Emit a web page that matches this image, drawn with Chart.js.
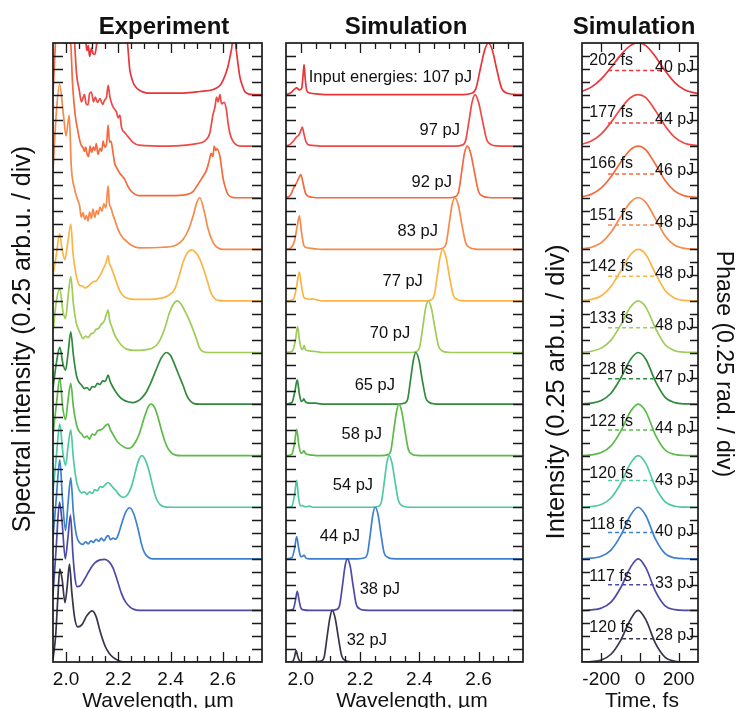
<!DOCTYPE html>
<html>
<head>
<meta charset="utf-8">
<script src="https://cdn.jsdelivr.net/npm/chart.js@4.4.1/dist/chart.umd.min.js"></script>
<style>
  html, body { margin: 0; padding: 0; background: #fff; }
  #wrap { position: relative; width: 740px; height: 708px; overflow: hidden; background: #fff; }
  #wrap canvas { position: absolute; left: 0; top: 0; }
</style>
</head>
<body>
<div id="wrap">
  <canvas id="expChart" width="740" height="708"></canvas>
  <canvas id="simChart" width="740" height="708"></canvas>
  <canvas id="timeChart" width="740" height="708"></canvas>
</div>
<script>
const FONT = '"Liberation Sans", Arial, Helvetica, sans-serif';

// colours, bottom (lowest energy) to top
const colors = ['#36354b', '#4b4aa8', '#3d80d0', '#4fc9a3', '#5cba49', '#2f8a3d',
                '#9ecc56', '#fbb446', '#f7894b', '#f36a3c', '#ee4a45', '#e8343a'];
const levels = [0, 1, 2, 3, 4, 5, 6, 7, 8, 9, 10, 11];

// ---- Experiment spectra [wavelength um, relative intensity] ----
const exp32 = [[1.95,0.05],[1.96,0.5],[1.968,1.2],[1.976,1.8],[1.985,1.6],[1.996,1.15],[2.005,1.5],[2.013,1.9],[2.022,1.35],[2.033,0.85],[2.045,0.68],[2.06,0.72],[2.08,0.9],[2.1,0.99],[2.115,0.88],[2.13,0.6],[2.15,0.3],[2.165,0.17],[2.18,0.09],[2.2,0.03],[2.22,0.005],[2.3,0],[2.75,0]];
const exp38 = [[1.95,0.3],[1.962,1.2],[1.975,2.1],[1.985,1.7],[1.997,1.0],[2.007,1.4],[2.017,1.85],[2.026,1.1],[2.035,0.6],[2.042,0.46],[2.055,0.48],[2.07,0.6],[2.09,0.78],[2.11,0.92],[2.13,0.98],[2.148,0.99],[2.165,0.94],[2.18,0.82],[2.195,0.6],[2.212,0.33],[2.228,0.16],[2.244,0.07],[2.26,0.02],[2.28,0],[2.75,0]];
const exp44 = [[1.95,0.4],[1.963,1.2],[1.976,1.92],[1.987,1.1],[1.998,0.55],[2.008,1.1],[2.018,1.57],[2.028,0.9],[2.04,0.45],[2.052,0.31],[2.065,0.28],[2.075,0.33],[2.085,0.29],[2.095,0.35],[2.105,0.32],[2.115,0.38],[2.125,0.34],[2.135,0.4],[2.145,0.35],[2.155,0.43],[2.162,0.45],[2.17,0.37],[2.18,0.4],[2.19,0.38],[2.2,0.47],[2.212,0.67],[2.228,0.9],[2.244,0.99],[2.26,0.86],[2.276,0.57],[2.288,0.3],[2.3,0.12],[2.315,0.03],[2.33,0],[2.75,0]];
const exp54 = [[1.95,0.3],[1.963,1.0],[1.976,1.61],[1.988,1.05],[1.998,0.81],[2.008,1.2],[2.018,1.5],[2.028,0.95],[2.04,0.5],[2.05,0.33],[2.06,0.28],[2.07,0.3],[2.08,0.25],[2.09,0.3],[2.1,0.27],[2.11,0.34],[2.12,0.32],[2.13,0.4],[2.14,0.39],[2.15,0.44],[2.16,0.48],[2.17,0.44],[2.18,0.38],[2.19,0.33],[2.2,0.26],[2.21,0.21],[2.22,0.19],[2.235,0.24],[2.25,0.4],[2.262,0.62],[2.275,0.87],[2.29,1.0],[2.305,0.9],[2.32,0.66],[2.333,0.38],[2.346,0.16],[2.36,0.05],[2.375,0.01],[2.4,0],[2.75,0]];
const exp58 = [[1.95,0.4],[1.963,1.0],[1.976,1.5],[1.988,0.9],[1.998,0.7],[2.008,1.1],[2.018,1.4],[2.028,0.95],[2.04,0.6],[2.05,0.47],[2.06,0.42],[2.07,0.35],[2.08,0.38],[2.09,0.32],[2.1,0.42],[2.11,0.4],[2.12,0.48],[2.13,0.5],[2.14,0.52],[2.15,0.58],[2.161,0.61],[2.17,0.5],[2.18,0.41],[2.19,0.32],[2.2,0.25],[2.218,0.18],[2.235,0.14],[2.25,0.16],[2.265,0.26],[2.28,0.42],[2.3,0.75],[2.315,0.95],[2.326,1.0],[2.34,0.92],[2.352,0.74],[2.365,0.5],[2.378,0.28],[2.39,0.14],[2.404,0.05],[2.42,0.01],[2.44,0],[2.75,0]];
const exp65 = [[1.95,0.3],[1.963,0.8],[1.976,1.1],[1.988,0.78],[1.998,0.66],[2.008,1.0],[2.018,1.4],[2.028,0.95],[2.04,0.55],[2.05,0.42],[2.059,0.37],[2.07,0.3],[2.08,0.32],[2.09,0.27],[2.1,0.34],[2.11,0.33],[2.12,0.4],[2.13,0.38],[2.14,0.45],[2.15,0.44],[2.161,0.56],[2.168,0.45],[2.175,0.37],[2.19,0.24],[2.205,0.14],[2.22,0.08],[2.24,0.04],[2.257,0.03],[2.275,0.06],[2.29,0.12],[2.308,0.24],[2.325,0.42],[2.346,0.68],[2.365,0.9],[2.384,1.0],[2.4,0.94],[2.416,0.76],[2.432,0.56],[2.448,0.36],[2.462,0.17],[2.474,0.07],[2.49,0.01],[2.51,0],[2.75,0]];
const exp70 = [[1.95,0.4],[1.963,1.0],[1.976,1.24],[1.988,0.8],[1.998,0.66],[2.008,1.1],[2.018,1.47],[2.028,0.95],[2.038,0.6],[2.046,0.47],[2.056,0.35],[2.065,0.27],[2.075,0.32],[2.085,0.29],[2.095,0.36],[2.105,0.38],[2.115,0.45],[2.125,0.47],[2.135,0.55],[2.145,0.6],[2.152,0.7],[2.161,0.82],[2.167,0.62],[2.175,0.5],[2.186,0.34],[2.2,0.22],[2.212,0.14],[2.23,0.07],[2.26,0.04],[2.3,0.05],[2.333,0.09],[2.355,0.2],[2.378,0.47],[2.395,0.76],[2.41,0.93],[2.425,1.0],[2.44,0.94],[2.455,0.8],[2.474,0.6],[2.488,0.42],[2.5,0.25],[2.51,0.1],[2.52,0.03],[2.54,0],[2.75,0]];
const exp77 = [[1.95,0.5],[1.963,0.9],[1.975,1.3],[1.985,1.0],[1.995,0.8],[2.007,1.15],[2.018,1.49],[2.027,0.9],[2.038,0.52],[2.052,0.3],[2.062,0.29],[2.072,0.25],[2.084,0.28],[2.094,0.33],[2.104,0.37],[2.116,0.39],[2.126,0.46],[2.135,0.54],[2.142,0.62],[2.15,0.7],[2.155,0.78],[2.161,0.88],[2.166,0.72],[2.172,0.66],[2.18,0.55],[2.193,0.36],[2.205,0.2],[2.215,0.12],[2.23,0.06],[2.26,0.03],[2.32,0.03],[2.36,0.05],[2.39,0.1],[2.416,0.23],[2.432,0.47],[2.448,0.75],[2.464,0.93],[2.48,0.99],[2.496,0.94],[2.512,0.81],[2.526,0.62],[2.538,0.43],[2.548,0.26],[2.557,0.13],[2.57,0.04],[2.585,0.01],[2.6,0],[2.75,0]];
const exp83 = [[1.95,1.5],[1.962,2.6],[1.975,3.2],[1.99,2.6],[2.0,2.2],[2.012,2.6],[2.02,1.6],[2.033,1.16],[2.043,0.98],[2.052,0.84],[2.058,0.62],[2.065,0.71],[2.072,0.58],[2.078,0.66],[2.084,0.55],[2.09,0.72],[2.097,0.6],[2.103,0.78],[2.11,0.62],[2.117,0.75],[2.123,0.68],[2.13,0.82],[2.137,0.74],[2.145,0.88],[2.152,0.8],[2.161,1.23],[2.166,0.88],[2.172,0.8],[2.18,0.66],[2.186,0.58],[2.195,0.44],[2.205,0.32],[2.218,0.22],[2.231,0.16],[2.25,0.08],[2.28,0.03],[2.37,0.04],[2.42,0.08],[2.448,0.19],[2.47,0.4],[2.486,0.64],[2.5,0.9],[2.512,1.0],[2.528,0.75],[2.544,0.39],[2.563,0.13],[2.578,0.04],[2.6,0],[2.75,0]];
const exp92 = [[1.95,2.0],[1.965,3.5],[1.975,3.8],[1.99,3.0],[2.005,3.0],[2.015,3.2],[2.025,2.2],[2.035,1.6],[2.045,1.3],[2.052,1.12],[2.058,1.02],[2.065,0.97],[2.07,0.9],[2.075,0.98],[2.08,0.86],[2.086,0.8],[2.092,1.0],[2.098,0.88],[2.104,0.98],[2.11,0.92],[2.116,1.05],[2.122,0.84],[2.13,0.96],[2.136,0.9],[2.142,1.1],[2.148,0.98],[2.155,1.05],[2.161,1.41],[2.166,1.08],[2.172,1.1],[2.18,0.86],[2.186,0.67],[2.196,0.56],[2.205,0.48],[2.215,0.42],[2.225,0.35],[2.235,0.24],[2.244,0.16],[2.26,0.08],[2.28,0.04],[2.4,0.04],[2.46,0.06],[2.486,0.12],[2.5,0.22],[2.52,0.38],[2.538,0.54],[2.548,0.72],[2.555,0.86],[2.562,0.8],[2.567,1.0],[2.573,0.92],[2.578,0.95],[2.589,0.8],[2.596,0.55],[2.602,0.35],[2.612,0.16],[2.62,0.06],[2.635,0.01],[2.65,0],[2.75,0]];
const exp97 = [[1.95,2.5],[1.975,4],[2.0,3.5],[2.02,3.5],[2.033,2.0],[2.04,1.41],[2.05,1.1],[2.059,0.86],[2.065,0.94],[2.07,1.0],[2.077,0.82],[2.084,0.8],[2.09,1.02],[2.097,1.05],[2.105,0.86],[2.112,0.95],[2.12,0.85],[2.13,0.92],[2.14,0.81],[2.148,0.9],[2.155,0.95],[2.161,1.18],[2.168,0.95],[2.175,0.82],[2.18,0.76],[2.193,0.66],[2.2,0.55],[2.206,0.6],[2.212,0.37],[2.225,0.26],[2.238,0.18],[2.255,0.08],[2.28,0.02],[2.39,0],[2.46,0.02],[2.5,0.05],[2.53,0.1],[2.55,0.25],[2.562,0.6],[2.57,0.76],[2.576,0.95],[2.582,0.86],[2.589,1.0],[2.595,0.82],[2.605,0.85],[2.614,0.7],[2.62,0.45],[2.627,0.25],[2.636,0.12],[2.646,0.05],[2.665,0],[2.75,0]];
const exp107 = [[1.95,2],[1.975,3.5],[2.0,3],[2.02,3],[2.05,1.4],[2.065,1.2],[2.075,1.05],[2.08,0.85],[2.085,0.95],[2.09,0.74],[2.097,0.9],[2.103,0.8],[2.11,0.78],[2.118,1.0],[2.13,1.3],[2.16,1.5],[2.2,1.4],[2.22,1.2],[2.231,1.07],[2.236,0.95],[2.24,0.7],[2.244,0.48],[2.25,0.34],[2.257,0.23],[2.266,0.15],[2.276,0.1],[2.29,0.06],[2.31,0.03],[2.45,0.03],[2.512,0.06],[2.564,0.1],[2.59,0.18],[2.602,0.29],[2.612,0.42],[2.62,0.55],[2.627,0.72],[2.633,0.87],[2.64,1.1],[2.647,1.05],[2.652,0.85],[2.658,0.6],[2.665,0.35],[2.675,0.17],[2.684,0.06],[2.7,0.01],[2.72,0],[2.75,0]];
const expSpectra = [exp32, exp38, exp44, exp54, exp58, exp65, exp70, exp77, exp83, exp92, exp97, exp107];

// ---- Simulated spectra ----
const sim32 = [[1.95,0],[1.972,0.01],[1.978,0.08],[1.984,0.22],[1.99,0.1],[1.996,0.02],[2.01,0],[2.04,0.01],[2.055,0.01],[2.069,0.02],[2.079,0.1],[2.089,0.5],[2.098,0.85],[2.106,1],[2.116,0.85],[2.126,0.5],[2.138,0.12],[2.15,0.03],[2.166,0.005],[2.2,0],[2.75,0]];
const sim38 = [[1.95,0],[1.974,0.02],[1.982,0.2],[1.988,0.37],[1.994,0.2],[2.0,0.05],[2.01,0.01],[2.03,0],[2.1,0],[2.122,0.02],[2.131,0.1],[2.141,0.5],[2.149,0.85],[2.157,1],[2.167,0.85],[2.176,0.5],[2.187,0.12],[2.199,0.03],[2.214,0.005],[2.25,0],[2.75,0]];
const sim44 = [[1.95,0],[1.97,0.02],[1.979,0.2],[1.986,0.43],[1.993,0.2],[2.0,0.04],[2.006,0.05],[2.011,0.07],[2.017,0.02],[2.03,0],[2.19,0],[2.216,0.02],[2.225,0.1],[2.235,0.5],[2.243,0.85],[2.251,1],[2.261,0.85],[2.27,0.5],[2.281,0.12],[2.293,0.03],[2.308,0.005],[2.34,0],[2.75,0]];
const sim54 = [[1.95,0],[1.97,0.02],[1.979,0.25],[1.986,0.52],[1.992,0.2],[1.998,0.03],[2.005,0.03],[2.015,0.01],[2.03,0.02],[2.04,0],[2.24,0],[2.263,0.02],[2.272,0.1],[2.282,0.5],[2.29,0.85],[2.298,1],[2.308,0.85],[2.318,0.5],[2.33,0.12],[2.342,0.03],[2.358,0.005],[2.39,0],[2.75,0]];
const sim58 = [[1.95,0],[1.97,0.03],[1.979,0.25],[1.986,0.51],[1.993,0.22],[2.0,0.05],[2.006,0.06],[2.01,0.1],[2.015,0.05],[2.025,0.02],[2.04,0.01],[2.06,0],[2.27,0],[2.294,0.02],[2.304,0.1],[2.314,0.5],[2.323,0.85],[2.331,1],[2.341,0.85],[2.351,0.5],[2.363,0.12],[2.375,0.03],[2.391,0.005],[2.42,0],[2.75,0]];
const sim65 = [[1.95,0],[1.97,0.03],[1.98,0.25],[1.988,0.47],[1.995,0.2],[2.002,0.05],[2.007,0.07],[2.01,0.1],[2.016,0.04],[2.03,0.02],[2.05,0.02],[2.06,0.01],[2.08,0],[2.33,0],[2.351,0.02],[2.361,0.1],[2.371,0.5],[2.38,0.85],[2.388,1],[2.399,0.85],[2.409,0.5],[2.422,0.12],[2.434,0.03],[2.451,0.005],[2.48,0],[2.75,0]];
const sim70 = [[1.95,0],[1.972,0.03],[1.982,0.25],[1.989,0.5],[1.996,0.22],[2.003,0.06],[2.008,0.08],[2.011,0.14],[2.016,0.05],[2.03,0.03],[2.05,0.02],[2.07,0],[2.37,0],[2.39,0.02],[2.401,0.1],[2.412,0.5],[2.421,0.85],[2.43,1],[2.441,0.85],[2.452,0.5],[2.465,0.12],[2.478,0.03],[2.496,0.005],[2.52,0],[2.75,0]];
const sim77 = [[1.95,0],[1.975,0.03],[1.985,0.25],[1.995,0.56],[2.002,0.3],[2.01,0.07],[2.02,0.04],[2.03,0.03],[2.04,0.04],[2.055,0.02],[2.07,0],[2.42,0],[2.439,0.02],[2.45,0.1],[2.461,0.5],[2.47,0.85],[2.479,1],[2.49,0.85],[2.501,0.5],[2.514,0.12],[2.527,0.03],[2.545,0.005],[2.57,0],[2.75,0]];
const sim83 = [[1.95,0],[1.965,0.02],[1.978,0.15],[1.988,0.45],[1.995,0.65],[2.002,0.35],[2.01,0.08],[2.02,0.03],[2.035,0.02],[2.05,0.01],[2.07,0],[2.46,0],[2.478,0.02],[2.49,0.1],[2.501,0.5],[2.51,0.85],[2.52,1],[2.532,0.85],[2.543,0.5],[2.557,0.12],[2.571,0.03],[2.589,0.005],[2.61,0],[2.75,0]];
const sim92 = [[1.95,0],[1.965,0.05],[1.975,0.18],[1.985,0.28],[1.993,0.38],[2.0,0.45],[2.007,0.3],[2.015,0.1],[2.025,0.03],[2.04,0.01],[2.06,0],[2.5,0],[2.52,0.02],[2.532,0.1],[2.543,0.5],[2.552,0.85],[2.562,1],[2.574,0.85],[2.586,0.5],[2.6,0.12],[2.615,0.03],[2.634,0.005],[2.66,0],[2.75,0]];
const sim97 = [[1.95,0],[1.965,0.04],[1.978,0.12],[1.986,0.18],[1.994,0.22],[2.0,0.3],[2.005,0.37],[2.01,0.25],[2.018,0.08],[2.03,0.02],[2.05,0.01],[2.07,0],[2.52,0],[2.544,0.02],[2.556,0.1],[2.568,0.5],[2.578,0.85],[2.588,1],[2.6,0.85],[2.613,0.5],[2.628,0.12],[2.643,0.03],[2.663,0.005],[2.69,0],[2.75,0]];
const sim107 = [[1.95,0],[1.965,0.03],[1.978,0.1],[1.986,0.13],[1.995,0.09],[2.003,0.12],[2.008,0.4],[2.011,0.58],[2.015,0.3],[2.02,0.08],[2.03,0.03],[2.06,0.01],[2.1,0],[2.55,0],[2.573,0.02],[2.59,0.1],[2.606,0.5],[2.62,0.85],[2.633,1],[2.647,0.85],[2.661,0.5],[2.678,0.12],[2.695,0.03],[2.72,0.005],[2.75,0]];
const simSpectra = [sim32, sim38, sim44, sim54, sim58, sim65, sim70, sim77, sim83, sim92, sim97, sim107];
const simEnergies = [32, 38, 44, 54, 58, 65, 70, 77, 83, 92, 97, 107];
// right end of each energy label, [wavelength, level]
const simLabelAt = [[2.291,0.41],[2.335,1.41],[2.2,2.43],[2.244,3.43],[2.274,4.41],[2.318,5.37],
                    [2.369,6.37],[2.412,7.37],[2.463,8.35],[2.51,9.29],[2.537,10.31],[2.578,11.33]];

// ---- Simulated pulses in time ----
const pulseTimes = [-300, -250, -200, -150, -100, -50, -10, 30, 80, 130, 180, 230, 300];
const p120fs28 = [0,0.01,0.04,0.15,0.42,0.82,1,0.82,0.36,0.09,0.015,0,0];
const p117fs33 = [0,0.01,0.045,0.16,0.44,0.83,1,0.83,0.37,0.09,0.015,0,0];
const p118fs40 = [0,0.012,0.05,0.17,0.45,0.84,1,0.84,0.38,0.1,0.018,0.002,0];
const p120fs43 = [0.002,0.014,0.055,0.18,0.46,0.845,1,0.85,0.39,0.105,0.02,0.003,0];
const p122fs44 = [0.003,0.016,0.06,0.19,0.47,0.85,1,0.855,0.4,0.11,0.022,0.003,0];
const p128fs47 = [0.004,0.02,0.07,0.21,0.5,0.86,1,0.87,0.44,0.13,0.028,0.004,0];
const p133fs48 = [0.005,0.025,0.085,0.24,0.53,0.875,1,0.88,0.47,0.15,0.035,0.005,0];
const p142fs48 = [0.007,0.03,0.1,0.28,0.58,0.89,1,0.9,0.53,0.2,0.05,0.009,0];
const p151fs48 = [0.01,0.04,0.13,0.33,0.63,0.91,1,0.91,0.59,0.26,0.08,0.018,0.001];
const p166fs46 = [0.021,0.07,0.19,0.405,0.69,0.93,1,0.93,0.65,0.335,0.128,0.036,0.003];
const p177fs44 = [0.036,0.103,0.24,0.461,0.726,0.939,1,0.939,0.689,0.391,0.171,0.058,0.007];
const p202fs40 = [0.0625,0.15,0.304,0.524,0.766,0.949,1,0.949,0.735,0.46,0.232,0.095,0.017];
const pulses = [p120fs28, p117fs33, p118fs40, p120fs43, p122fs44, p128fs47,
                p133fs48, p142fs48, p151fs48, p166fs46, p177fs44, p202fs40];
const pulseWidths = [120, 117, 118, 120, 122, 128, 133, 142, 151, 166, 177, 202];
const pulseEnergies = [28, 33, 40, 43, 44, 47, 48, 48, 48, 46, 44, 40];
// flat phase (dashed), level above baseline and time span
const phaseLevel = [0.45, 0.5, 0.51, 0.52, 0.5, 0.49, 0.48, 0.48, 0.47, 0.46, 0.45, 0.465];
const phaseStart = -165;
const phaseEnd = [70, 70, 70, 70, 70, 70, 72, 75, 75, 75, 118, 113];

const wlTickLabels = [2.0, 2.2, 2.4, 2.6];
const timeTickLabels = [-200, 0, 200];

// ---- drawing ----
function stacked(curve, level) {
  return curve.map(p => ({ x: p[0], y: p[1] + level }));
}

function drawText(ctx, txt, x, y, font, align, base, rot) {
  ctx.save();
  ctx.font = font;
  ctx.fillStyle = '#111';
  ctx.textAlign = align || 'center';
  ctx.textBaseline = base || 'alphabetic';
  ctx.translate(x, y);
  if (rot) ctx.rotate(rot);
  ctx.fillText(txt, 0, 0);
  ctx.restore();
}

function decor(o) {
  return {
    id: 'decor',
    afterDatasetsDraw(chart) {
      const ctx = chart.ctx, a = chart.chartArea;
      const xs = chart.scales.x, ys = chart.scales.y;
      ctx.save();
      if (o.notes) o.notes(ctx, xs, ys);

      // inward ticks
      ctx.strokeStyle = '#1a1a1a';
      ctx.lineWidth = 1.3;
      ctx.beginPath();
      for (let i = 1; i < 48; i++) {
        const py = Math.round(ys.getPixelForValue(i * 0.25)) + 0.5;
        ctx.moveTo(a.left, py); ctx.lineTo(a.left + o.yTick, py);
        ctx.moveTo(a.right, py); ctx.lineTo(a.right - o.yTick, py);
      }
      const n = Math.round((o.xMax - o.xMin) / o.xStep);
      for (let i = 1; i < n; i++) {
        const v = o.xMin + i * o.xStep;
        const major = o.labels.some(l => Math.abs(l - v) < 1e-6);
        const len = major ? o.xMajor : o.xMinor;
        const px = Math.round(xs.getPixelForValue(v)) + 0.5;
        ctx.moveTo(px, a.bottom); ctx.lineTo(px, a.bottom - len);
        ctx.moveTo(px, a.top); ctx.lineTo(px, a.top + len);
      }
      ctx.stroke();
      ctx.lineWidth = 1.7;
      ctx.strokeRect(a.left, a.top, a.right - a.left, a.bottom - a.top);

      // tick labels and titles
      o.labels.forEach(v => drawText(ctx, o.fmt(v), xs.getPixelForValue(v), 685, '19px ' + FONT));
      drawText(ctx, o.xTitle, o.xTitleX, 707, '21px ' + FONT);
      drawText(ctx, o.title, o.titleX, 34, 'bold 24px ' + FONT);
      (o.extra || []).forEach(t => drawText(ctx, t.text, t.x, t.y, t.size + 'px ' + FONT, 'center', 'middle', t.rot));
      ctx.restore();
    }
  };
}

function makeChart(id, box, xMin, xMax, datasets, plugin) {
  return new Chart(document.getElementById(id), {
    type: 'line',
    data: { datasets },
    options: {
      responsive: false,
      animation: false,
      devicePixelRatio: 1,
      events: [],
      layout: { padding: { left: box.left, top: box.top, right: 740 - box.right, bottom: 708 - box.bottom } },
      scales: {
        x: { type: 'linear', min: xMin, max: xMax, display: false },
        y: { type: 'linear', min: 0, max: 12, display: false }
      },
      plugins: { legend: { display: false }, tooltip: { enabled: false } },
      elements: {
        point: { radius: 0 },
        line: { borderWidth: 1.7, cubicInterpolationMode: 'monotone' }
      }
    },
    plugins: [plugin]
  });
}

// Experiment
makeChart('expChart', { left: 53, right: 262, top: 43, bottom: 662 }, 1.95, 2.75,
  expSpectra.map((c, i) => ({ data: stacked(c, levels[i]), borderColor: colors[i] })),
  decor({
    xMin: 1.95, xMax: 2.75, xStep: 0.05, labels: wlTickLabels, fmt: v => v.toFixed(1),
    yTick: 10, xMajor: 10, xMinor: 6,
    xTitle: 'Wavelength, \u00b5m', xTitleX: 158, title: 'Experiment', titleX: 164,
    extra: [{ text: 'Spectral intensity (0.25 arb.u. / div)', x: 23, y: 339, size: 25, rot: -Math.PI / 2 }]
  }));

// Simulation, spectra
makeChart('simChart', { left: 286, right: 523, top: 43, bottom: 662 }, 1.95, 2.75,
  simSpectra.map((c, i) => ({ data: stacked(c, levels[i]), borderColor: colors[i] })),
  decor({
    xMin: 1.95, xMax: 2.75, xStep: 0.05, labels: wlTickLabels, fmt: v => v.toFixed(1),
    yTick: 10, xMajor: 10, xMinor: 6,
    xTitle: 'Wavelength, \u00b5m', xTitleX: 412, title: 'Simulation', titleX: 406,
    notes(ctx, xs, ys) {
      simEnergies.forEach((e, i) => {
        const txt = (i === simEnergies.length - 1 ? 'Input energies: ' : '') + e + ' pJ';
        drawText(ctx, txt, xs.getPixelForValue(simLabelAt[i][0]), ys.getPixelForValue(simLabelAt[i][1]),
          '16.5px ' + FONT, 'right', 'middle');
      });
    }
  }));

// Simulation, time domain
const timeSets = [];
pulses.forEach((p, i) => {
  timeSets.push({ data: pulseTimes.map((t, k) => ({ x: t, y: p[k] + levels[i] })), borderColor: colors[i] });
});
pulses.forEach((p, i) => {
  const v = levels[i] + phaseLevel[i];
  timeSets.push({ data: [{ x: phaseStart, y: v }, { x: phaseEnd[i], y: v }], borderColor: colors[i],
    borderDash: [4, 3], borderWidth: 1.5 });
});
makeChart('timeChart', { left: 582, right: 698, top: 43, bottom: 662 }, -300, 300, timeSets,
  decor({
    xMin: -300, xMax: 300, xStep: 100, labels: timeTickLabels, fmt: v => String(v),
    yTick: 8, xMajor: 9, xMinor: 7,
    xTitle: 'Time, fs', xTitleX: 642, title: 'Simulation', titleX: 634,
    extra: [
      { text: 'Intensity (0.25 arb.u. / div)', x: 557, y: 392, size: 25.5, rot: -Math.PI / 2 },
      { text: 'Phase (0.25 rad. / div)', x: 723, y: 364, size: 23, rot: Math.PI / 2 }
    ],
    notes(ctx, xs, ys) {
      pulses.forEach((p, i) => {
        drawText(ctx, pulseWidths[i] + ' fs', xs.getPixelForValue(-262), ys.getPixelForValue(levels[i] + 0.66),
          '16px ' + FONT, 'left', 'middle');
        drawText(ctx, pulseEnergies[i] + ' pJ', xs.getPixelForValue(78), ys.getPixelForValue(levels[i] + 0.52),
          '16px ' + FONT, 'left', 'middle');
      });
    }
  }));
</script>
</body>
</html>
